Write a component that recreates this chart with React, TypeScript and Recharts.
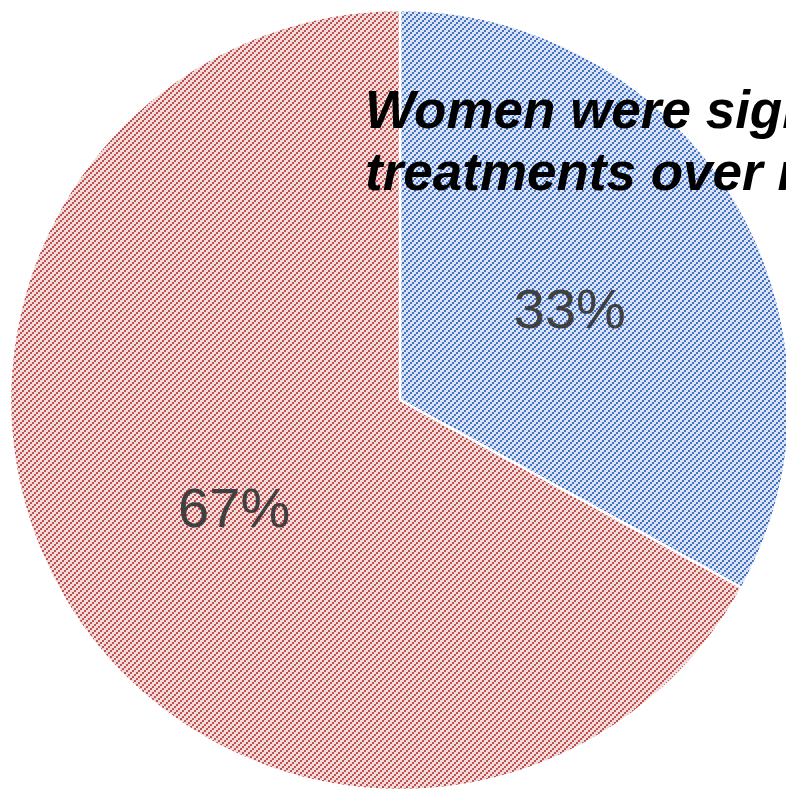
import React from "react";
import { PieChart, Pie, Cell } from "recharts";

// Share of respondents by group
const categories = ["Women", "Men"];
const shares = [33, 67];
const titleLines = [
  "Women were significantly more likely to choose",
  "treatments over medication",
];

const fills = ["url(#hatchBlue)", "url(#hatchRed)"];

const data = categories.map((name, i) => ({ name, value: shares[i] }));

const RADIAN = Math.PI / 180;

const renderLabel = (props: any) => {
  const { cx, cy, midAngle, outerRadius, value } = props;
  const r = outerRadius * 0.5;
  const x = cx + r * Math.cos(-midAngle * RADIAN) + 2;
  const y = cy + r * Math.sin(-midAngle * RADIAN) + 8;
  return (
    <text
      x={x}
      y={y}
      textAnchor="middle"
      dominantBaseline="central"
      fill="#404040"
      fontSize={56}
      fontFamily="'Liberation Sans', Arial, sans-serif"
    >
      {`${value}%`}
    </text>
  );
};

// Pixel staircase hatch: 2x2 blocks stepping up-right, 6px period
const Hatch = ({ id, bg, fg }: { id: string; bg: string; fg: string }) => (
  <pattern id={id} patternUnits="userSpaceOnUse" width={6} height={6}>
    <rect width={6} height={6} fill={bg} />
    <g fill={fg} shapeRendering="crispEdges">
      <rect x={4} y={0} width={2} height={2} />
      <rect x={2} y={2} width={2} height={2} />
      <rect x={0} y={4} width={2} height={2} />
    </g>
  </pattern>
);

export default function App() {
  return (
    <div
      style={{
        position: "fixed",
        left: 0,
        top: 0,
        width: 786,
        height: 789,
        overflow: "hidden",
        background: "#ffffff",
      }}
    >
      <PieChart width={786} height={789} margin={{ top: 0, right: 0, bottom: 0, left: 0 }}>
        <defs>
          <Hatch id="hatchBlue" bg="#dae3f3" fg="#4472c4" />
          <Hatch id="hatchRed" bg="#f2dcdb" fg="#c0504d" />
        </defs>
        <Pie
          data={data}
          dataKey="value"
          nameKey="name"
          cx={400}
          cy={400}
          outerRadius={390}
          startAngle={90}
          endAngle={-270}
          stroke="#ffffff"
          strokeWidth={2.5}
          label={renderLabel}
          labelLine={false}
          isAnimationActive={false}
        >
          {data.map((d, i) => (
            <Cell key={d.name} fill={fills[i]} />
          ))}
        </Pie>
      </PieChart>
      <svg
        width={786}
        height={789}
        style={{ position: "absolute", left: 0, top: 0, pointerEvents: "none" }}
      >
        <g
          fontFamily="'Liberation Sans', Arial, sans-serif"
          fontWeight="bold"
          fontStyle="italic"
          fontSize={53}
          fill="#000000"
        >
          <text x={365} y={128}>{titleLines[0]}</text>
          <text x={365} y={190}>{titleLines[1]}</text>
        </g>
      </svg>
    </div>
  );
}
